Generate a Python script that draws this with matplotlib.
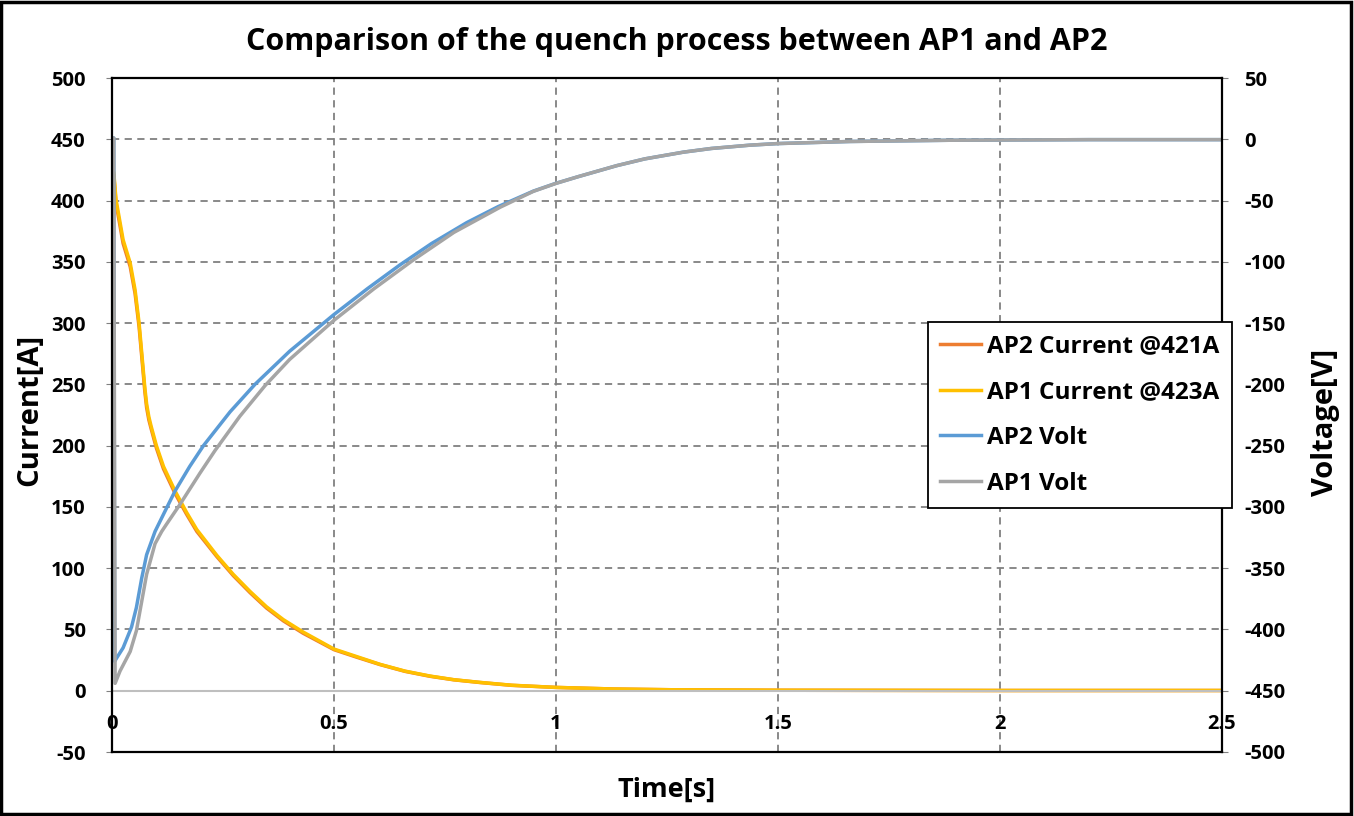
import matplotlib.pyplot as plt
from matplotlib.patches import Rectangle

plt.rcParams['font.family'] = ['Open Sans', 'DejaVu Sans']
plt.rcParams['font.weight'] = 'bold'
plt.rcParams['axes.unicode_minus'] = False

# Current decay during the quench [s], [A]
time_current = [0, 0.004, 0.009, 0.025, 0.041, 0.052, 0.061, 0.0706, 0.074, 0.078, 0.083,
                0.088, 0.1, 0.116, 0.142, 0.168, 0.191, 0.236, 0.273, 0.311, 0.348,
                0.386, 0.43, 0.5, 0.55, 0.604, 0.66, 0.716, 0.77, 0.829, 0.9,
                1.0, 1.13, 1.26, 1.5, 2.0, 2.5]
ap2_current = [421, 421, 398, 365, 346, 324, 297, 258, 244, 231, 221,
               214, 198, 181, 161, 144, 130, 109.5, 94, 80, 67.5,
               57, 47, 33.5, 27.5, 21.3, 15.8, 11.8, 8.9, 6.7, 4.4,
               2.7, 1.4, 0.8, 0.4, 0.2, 0.2]
ap1_current = [423, 423, 401, 368, 349, 327, 300, 261, 247, 234, 223.5,
               216, 200, 183, 163, 145.5, 131.5, 110.5, 95, 81, 68.5,
               58, 48, 34, 28, 21.5, 16, 12, 9, 6.8, 4.5,
               2.7, 1.4, 0.8, 0.4, 0.2, 0.2]

# Voltage recovery [s], [V]
time_ap2_volt = [0, 0.004, 0.006, 0.011, 0.025, 0.044, 0.055, 0.067, 0.078, 0.097, 0.116,
                 0.142, 0.175, 0.206, 0.266, 0.322, 0.4, 0.5, 0.575, 0.649, 0.72,
                 0.799, 0.87, 0.949, 1.0, 1.05, 1.137, 1.2, 1.287, 1.35, 1.437,
                 1.5, 1.662, 1.887, 2.2, 2.5]
ap2_volt = [1, 1, -426, -423, -415, -398, -382, -358, -339, -320, -306,
            -287, -267, -250, -222.4, -200, -173, -143, -122, -102.4, -85,
            -68, -54.9, -42.3, -35.9, -30.5, -21.5, -16, -10.5, -7.5, -4.8,
            -3.5, -1.8, -0.8, -0.3, -0.3]

time_ap1_volt = [0, 0.004, 0.007, 0.018, 0.041, 0.055, 0.067, 0.078, 0.097, 0.112, 0.123,
                 0.153, 0.198, 0.232, 0.288, 0.345, 0.4, 0.5, 0.59, 0.679, 0.77,
                 0.874, 0.949, 1.0, 1.05, 1.137, 1.2, 1.287, 1.35, 1.437, 1.5,
                 1.662, 1.887, 2.2, 2.5]
ap1_volt = [1, 1, -444, -434, -418, -401, -377, -355, -330, -320, -314,
            -298, -272.5, -254, -226, -200.9, -179.7, -147.7, -122, -98.4, -76,
            -55.5, -42.5, -36, -30.5, -21.5, -16, -10.5, -7.5, -4.8, -3.5,
            -1.8, -0.8, -0.3, -0.3]

x_ticks = [0, 0.5, 1, 1.5, 2, 2.5]
x_ticklabels = ['0', '0.5', '1', '1.5', '2', '2.5']
current_ticks = list(range(-50, 501, 50))
volt_ticks = list(range(-500, 51, 50))

fig = plt.figure(figsize=(13.54, 8.16), dpi=100)
ax = fig.add_axes([112 / 1354, 1 - 752 / 816, 1110 / 1354, 674 / 816])
ax2 = ax.twinx()

# currents on the left axis
l1, = ax.plot(time_current, ap2_current, color='#ED7D31', lw=2.5, label='AP2 Current @421A')
l2, = ax.plot(time_current, ap1_current, color='#FFC000', lw=2.5, label='AP1 Current @423A')
# voltages on the right axis
l3, = ax2.plot(time_ap2_volt, ap2_volt, color='#5B9BD5', lw=2.5, label='AP2 Volt')
l4, = ax2.plot(time_ap1_volt, ap1_volt, color='#A5A5A5', lw=2.5, label='AP1 Volt')

ax.set_xlim(0, 2.5)
ax.set_ylim(-50, 500)
ax2.set_ylim(-500, 50)
ax.set_xticks(x_ticks)
ax.set_xticklabels(x_ticklabels)
ax.set_yticks(current_ticks)
ax2.set_yticks(volt_ticks)

ax.grid(True, color='#808080', ls=(0, (4, 3)), lw=1.3)
ax.set_axisbelow(True)

# horizontal axis crosses at zero current
for side in ['top', 'right', 'left']:
    ax.spines[side].set_visible(False)
ax.spines['bottom'].set_position(('data', 0))
ax.spines['bottom'].set_color('#BFBFBF')
ax.spines['bottom'].set_linewidth(1.5)
for side in ['top', 'right', 'left', 'bottom']:
    ax2.spines[side].set_color('black')
    ax2.spines[side].set_linewidth(1.6)

ax.tick_params(axis='x', length=0, pad=17, labelsize=14.5)
ax.tick_params(axis='y', length=4, color='#808080', labelsize=14.5, pad=15)
ax2.tick_params(axis='y', length=4, color='#808080', labelsize=14.5, pad=12)

fig.text(0.5, 1 - 42 / 816, 'Comparison of the quench process between AP1 and AP2',
         fontsize=22, fontweight='bold', ha='center', va='center')
fig.text(30 / 1354, 1 - 410 / 816, 'Current[A]', fontsize=21, fontweight='bold',
         rotation=90, ha='center', va='center')
fig.text(1325 / 1354, 1 - 422 / 816, 'Voltage[V]', fontsize=21, fontweight='bold',
         rotation=90, ha='center', va='center')
fig.text(667 / 1354, 1 - 790 / 816, 'Time[s]', fontsize=19.5, fontweight='bold',
         ha='center', va='center')

leg = ax2.legend(handles=[l1, l2, l3, l4], loc='upper left',
                 bbox_to_anchor=(0.735, 0.638), fontsize=17.5, frameon=True,
                 fancybox=False, edgecolor='black', framealpha=1,
                 handlelength=1.7, handletextpad=0.25, labelspacing=0.9,
                 borderpad=0.5, borderaxespad=0)
leg.get_frame().set_linewidth(1.3)

# outer frame around the figure
fig.patches.append(Rectangle((0.001, 0.002), 0.997, 0.996, transform=fig.transFigure,
                             fill=False, edgecolor='black', lw=2.5))

fig.savefig('out.png', dpi=100)
